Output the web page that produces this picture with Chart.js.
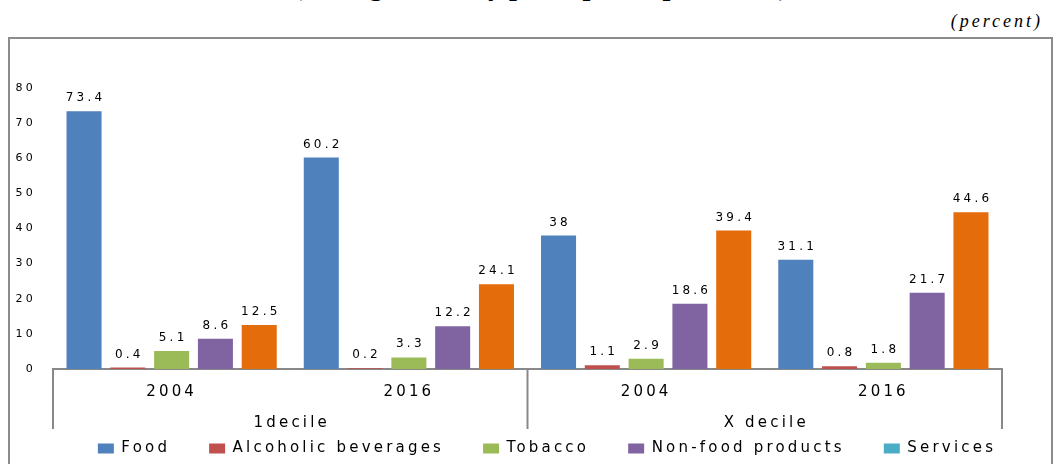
<!DOCTYPE html>
<html>
<head>
<meta charset="utf-8">
<script src="https://cdn.jsdelivr.net/npm/chart.js@4.4.0/dist/chart.umd.min.js"></script>
<style>
  html, body { margin: 0; padding: 0; background: #fff; width: 1062px; height: 464px; overflow: hidden; }
  #titulo { position: absolute; left: 0; width: 1081px; top: -28px; text-align: center;
            font: bold 28px "Liberation Serif", serif; line-height: 28px; color: #000; }
  #unidad { position: absolute; right: 19px; top: 11px; font: italic 18px "Liberation Serif", serif;
            letter-spacing: 3px; line-height: 20px; color: #000; }
  #marco  { position: absolute; left: 8px; top: 37px; width: 1041px; height: 500px; border: 2px solid #8c8c8c; }
  #grafico { position: absolute; left: 0; top: 0; }
</style>
</head>
<body>
<div id="titulo">(average monthly per capita expenditure)</div>
<div id="unidad">(percent)</div>
<div id="marco"></div>
<canvas id="grafico" width="1062" height="464"></canvas>
<script>
// ── Datos ─────────────────────────────────────────────────────
const anios    = ['2004', '2016', '2004', '2016'];
const deciles  = ['1decile', 'X decile'];
const alimentos = [73.4, 60.2, 38, 31.1];
const alcohol   = [0.4, 0.2, 1.1, 0.8];
const tabaco    = [5.1, 3.3, 2.9, 1.8];
const noAlim    = [8.6, 12.2, 18.6, 21.7];
const servicios = [12.5, 24.1, 39.4, 44.6];
const ticksY    = [0, 10, 20, 30, 40, 50, 60, 70, 80];

// ── Estilo ────────────────────────────────────────────────────
const ESPACIADO = '3.2px';   // el original está estirado a lo ancho
const GRIS = '#888888';
const FUENTE = 'DejaVu Sans';

Chart.defaults.font.family = FUENTE;
Chart.defaults.color = '#000';

// Etiquetas de valores, líneas del eje agrupado y nombres de deciles
const decoracion = {
  id: 'decoracion',
  beforeUpdate(chart) { chart.ctx.letterSpacing = ESPACIADO; },
  beforeDraw(chart)   { chart.ctx.letterSpacing = ESPACIADO; },
  afterLayout(chart) {
    // la leyenda del original está algo corrida a la derecha y abajo
    chart.legend.left += 10;
    chart.legend.right += 10;
    chart.legend.top += 2;
    chart.legend.bottom += 2;
  },
  afterDatasetsDraw(chart) {
    const ctx = chart.ctx;
    ctx.save();
    ctx.font = `12px "${FUENTE}"`;
    ctx.fillStyle = '#000';
    ctx.textAlign = 'center';
    ctx.textBaseline = 'alphabetic';
    chart.data.datasets.forEach((ds, i) => {
      chart.getDatasetMeta(i).data.forEach((bar, j) => {
        ctx.fillText(String(ds.data[j]), bar.x + 1.5, bar.y - 10);
      });
    });
    ctx.restore();
  },
  afterDraw(chart) {
    const ctx = chart.ctx;
    const x = chart.scales.x;
    const medio = (x.getPixelForTick(1) + x.getPixelForTick(2)) / 2;
    const arriba = x.top, abajo = x.top + 60;
    ctx.save();
    ctx.strokeStyle = GRIS;
    ctx.lineWidth = 2;
    [x.left, medio, x.right].forEach(px => {
      ctx.beginPath();
      ctx.moveTo(px, arriba);
      ctx.lineTo(px, abajo);
      ctx.stroke();
    });
    ctx.font = `15px "${FUENTE}"`;
    ctx.fillStyle = '#000';
    ctx.textAlign = 'center';
    ctx.textBaseline = 'middle';
    ctx.fillText(deciles[0], (x.left + medio) / 2 + 1.5, arriba + 54);
    ctx.fillText(deciles[1], (medio + x.right) / 2 + 1.5, arriba + 54);
    ctx.restore();
  }
};

const ctx = document.getElementById('grafico').getContext('2d');
new Chart(ctx, {
  type: 'bar',
  data: {
    labels: anios,
    datasets: [
      { label: 'Food',               data: alimentos, backgroundColor: '#4F81BD' },
      { label: 'Alcoholic beverages', data: alcohol,  backgroundColor: '#C0504D' },
      { label: 'Tobacco',            data: tabaco,    backgroundColor: '#9BBB59' },
      { label: 'Non-food products',  data: noAlim,    backgroundColor: '#8064A2' },
      { label: 'Services',           data: servicios, backgroundColor: '#E46C0A' }
    ]
  },
  options: {
    responsive: false,
    animation: false,
    events: [],
    categoryPercentage: 0.923,
    barPercentage: 0.8,
    layout: { padding: { top: 88, left: 12, right: 0, bottom: 0 } },
    plugins: {
      tooltip: { enabled: false },
      legend: {
        position: 'bottom',
        labels: {
          font: { size: 15 },
          color: '#000',
          boxWidth: 16,
          boxHeight: 10,
          padding: 39,
          generateLabels(chart) {
            const items = Chart.defaults.plugins.legend.labels.generateLabels(chart);
            // en el original la leyenda de Services sale en turquesa
            items[4].fillStyle = '#4BACC6';
            items.forEach(it => { it.lineWidth = 0; });
            return items;
          }
        }
      }
    },
    scales: {
      x: {
        grid: { display: false, drawTicks: false },
        border: { display: true, color: GRIS, width: 2 },
        ticks: { font: { size: 15 }, padding: 14 },
        afterFit: s => { s.height = 31; }
      },
      y: {
        min: 0, max: 80,
        grid: { display: false, drawTicks: false },
        border: { display: false },
        afterBuildTicks: s => { s.ticks = ticksY.map(v => ({ value: v })); },
        ticks: { font: { size: 11 }, padding: 17 },
        afterFit: s => { s.width = 41; }
      },
      derecha: {
        type: 'linear',
        position: 'right',
        grid: { display: false, drawTicks: false },
        border: { display: false },
        ticks: { display: false },
        afterFit: s => { s.width = 60; }
      }
    }
  },
  plugins: [decoracion]
});
</script>
</body>
</html>
